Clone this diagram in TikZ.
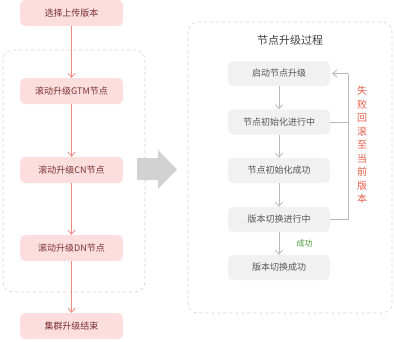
\documentclass[tikz,border=0pt]{standalone}
\usepackage{fontspec}
\setmainfont{Noto Sans CJK SC}
\usetikzlibrary{arrows.meta,positioning}
\definecolor{pinkfill}{HTML}{FCDEDE}
\definecolor{pinktext}{HTML}{7A3030}
\definecolor{pinkline}{HTML}{F08A80}
\definecolor{greyfill}{HTML}{F1F1F1}
\definecolor{greytext}{HTML}{555555}
\definecolor{greyline}{HTML}{B8B8B8}
\definecolor{dashgrey}{HTML}{D2D2D2}
\definecolor{failred}{HTML}{E8604C}
\definecolor{okgreen}{HTML}{4E9A3A}
\begin{document}
\begin{tikzpicture}[x=1pt,y=-1pt,
  lbox/.style={fill=pinkfill,rounded corners=5pt,minimum width=103pt,minimum height=26pt,inner sep=0pt,font=\fontsize{9}{10}\selectfont,text=pinktext},
  rbox/.style={fill=greyfill,rounded corners=5pt,minimum width=102pt,minimum height=25pt,inner sep=0pt,font=\fontsize{9}{10}\selectfont,text=greytext},
  larrow/.style={draw=pinkline,line width=0.8pt,-{Straight Barb[length=4pt,width=7pt]}},
  rarrow/.style={draw=greyline,line width=0.8pt,-{Straight Barb[length=4pt,width=7pt]}},
  container/.style={draw=dashgrey,dashed,rounded corners=10pt,line width=0.6pt}]
\useasboundingbox (0,0) rectangle (394,341);
% containers
\draw[container] (3,50) rectangle (145,292);
\draw[container] (188,22) rectangle (392,313);
% left nodes
\node[lbox] (a) at (71.5,13) {选择上传版本};
\node[lbox] (b) at (71.5,91) {滚动升级GTM节点};
\node[lbox] (c) at (71.5,170) {滚动升级CN节点};
\node[lbox] (d) at (71.5,248) {滚动升级DN节点};
\node[lbox] (e) at (71.5,326) {集群升级结束};
\draw[larrow] (a) -- (b);
\draw[larrow] (b) -- (c);
\draw[larrow] (c) -- (d);
\draw[larrow] (d) -- (e);
% big grey arrow
\fill[dashgrey] (137,158) -- (158,158) -- (158,150) -- (177,169.5) -- (158,189) -- (158,180) -- (137,180) -- cycle;
% right
\node[font=\fontsize{11}{12}\selectfont,text=black!75] (t) at (290,40) {节点升级过程};
\node[rbox] (r1) at (279,73.5) {启动节点升级};
\node[rbox] (r2) at (279,122) {节点初始化进行中};
\node[rbox] (r3) at (279,170.5) {节点初始化成功};
\node[rbox] (r4) at (279,219.5) {版本切换进行中};
\node[rbox] (r5) at (279,267.5) {版本切换成功};
\draw[rarrow] (r1) -- (r2);
\draw[rarrow] (r2) -- (r3);
\draw[rarrow] (r3) -- (r4);
\draw[rarrow] (r4) -- node[right=14pt,font=\fontsize{8}{9}\selectfont,text=okgreen] (ok) {成功} (r5);
\coordinate (c1) at (348,219.5);
\coordinate (c2) at (348,73.5);
\coordinate (c3) at (348,122);
\draw[greyline,line width=0.8pt] (r4.east) -- (c1) -- (c2);
\draw[greyline,line width=0.8pt] (r2.east) -- (c3);
\draw[rarrow] (c2) -- ([xshift=2pt]r1.east);
\node[text=failred,font=\fontsize{10}{13.5}\selectfont,align=center,inner sep=0pt] (fail) at (362,145) {失\\败\\回\\滚\\至\\当\\前\\版\\本};
\end{tikzpicture}
\end{document}
